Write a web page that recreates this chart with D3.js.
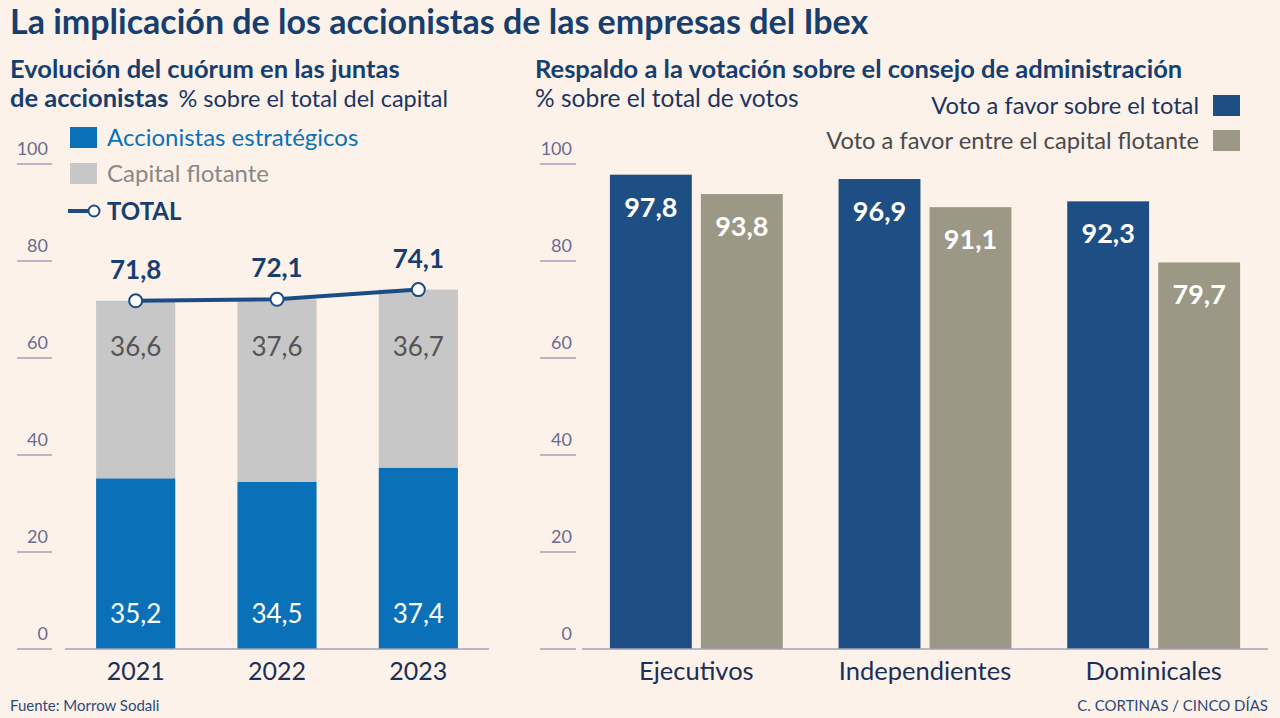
<!DOCTYPE html>
<html><head><meta charset="utf-8">
<script src="https://cdn.jsdelivr.net/npm/d3@7"></script>
<style>
html,body{margin:0;padding:0;background:#fcf2ea;}
svg{display:block;font-family:Lato,"Open Sans",sans-serif;}
</style></head>
<body>
<svg id="c" width="1280" height="718"></svg>
<script>
// ---- Data ----
const years = ["2021","2022","2023"];
const strategic = [35.2, 34.5, 37.4];
const floating = [36.6, 37.6, 36.7];
const totals = [71.8, 72.1, 74.1];
const yTicks = [0,20,40,60,80,100];

const boardCats = ["Ejecutivos","Independientes","Dominicales"];
const boardSeries = ["Voto a favor sobre el total","Voto a favor entre el capital flotante"];
const voteTotal = [97.8, 96.9, 92.3];
const voteFloat = [93.8, 91.1, 79.7];

const fmt = v => String(v).replace(".", ",");

const svg = d3.select("#c");
const navy = "#163f6f";
const cStrat = "#0a71b9", cFloat = "#c7c7c7", cLine = "#1b4c85";
const cBlue2 = "#1e4f84", cGrey2 = "#9b9886";
const tickCol = "#6c6b8d", tickLine = "#a3a2ba";

// Titles
svg.append("text").attr("x",10).attr("y",34).attr("fill",navy)
  .attr("font-size",34).attr("font-weight",700).text("La implicación de los accionistas de las empresas del Ibex");
svg.append("text").attr("x",10).attr("y",78).attr("fill",navy)
  .attr("font-size",25.5).attr("font-weight",700).text("Evolución del cuórum en las juntas");
const st2 = svg.append("text").attr("x",10).attr("y",107).attr("fill",navy).attr("font-size",25.5);
st2.append("tspan").attr("font-weight",700).text("de accionistas");
st2.append("tspan").attr("dx",10).attr("font-size",23.5).attr("fill","#1c3560").text("% sobre el total del capital");
svg.append("text").attr("x",535).attr("y",78).attr("fill",navy)
  .attr("font-size",25.5).attr("font-weight",700).text("Respaldo a la votación sobre el consejo de administración");
svg.append("text").attr("x",535).attr("y",107).attr("fill","#1c3560")
  .attr("font-size",24.5).text("% sobre el total de votos");

// ---- Left chart ----
const y = d3.scaleLinear().domain([0,100]).range([649,164]);
const xL = d3.scaleBand().domain(years).range([65,489]).paddingInner(0.44).paddingOuter(0.22);

function yAxis(x1, x2) {
  const g = svg.append("g");
  yTicks.forEach(t => {
    g.append("line").attr("x1",x1).attr("x2",x2).attr("y1",y(t)).attr("y2",y(t))
      .attr("stroke",tickLine).attr("stroke-width",1.5);
    g.append("text").attr("x",x2-4).attr("y",y(t)-9).attr("text-anchor","end")
      .attr("fill",tickCol).attr("font-size",18).text(t);
  });
}
yAxis(17,52);

const gL = svg.append("g");
years.forEach((yr,i) => {
  gL.append("rect").attr("x",xL(yr)).attr("width",xL.bandwidth())
    .attr("y",y(strategic[i])).attr("height",y(0)-y(strategic[i])).attr("fill",cStrat);
  gL.append("rect").attr("x",xL(yr)).attr("width",xL.bandwidth())
    .attr("y",y(strategic[i]+floating[i])).attr("height",y(strategic[i])-y(strategic[i]+floating[i])).attr("fill",cFloat);
  const cx = xL(yr)+xL.bandwidth()/2;
  gL.append("text").attr("x",cx).attr("y",y(5.3)).attr("text-anchor","middle")
    .attr("fill","#fff").attr("font-size",26).text(fmt(strategic[i]));
  gL.append("text").attr("x",cx).attr("y",y(60.4)).attr("text-anchor","middle")
    .attr("fill","#555558").attr("font-size",26).text(fmt(floating[i]));
  gL.append("text").attr("x",cx).attr("y",680).attr("text-anchor","middle")
    .attr("fill","#1b2f57").attr("font-size",25).text(yr);
});
svg.append("line").attr("x1",65).attr("x2",489).attr("y1",y(0)).attr("y2",y(0))
  .attr("stroke",tickLine).attr("stroke-width",1.5);

const line = d3.line().x((d,i)=>xL(years[i])+xL.bandwidth()/2).y(d=>y(d));
svg.append("path").datum(totals).attr("d",line).attr("fill","none")
  .attr("stroke",cLine).attr("stroke-width",4);
totals.forEach((v,i)=>{
  const cx = xL(years[i])+xL.bandwidth()/2;
  svg.append("circle").attr("cx",cx).attr("cy",y(v)).attr("r",6.5)
    .attr("fill","#fff").attr("stroke",cLine).attr("stroke-width",2);
  svg.append("text").attr("x",cx).attr("y",y(v)-22).attr("text-anchor","middle")
    .attr("fill",navy).attr("font-size",26).attr("font-weight",700).text(fmt(v));
});

// Left legend
const lg = svg.append("g");
lg.append("rect").attr("x",70).attr("y",127).attr("width",27).attr("height",21).attr("fill",cStrat);
lg.append("text").attr("x",107).attr("y",146).attr("fill",cStrat).attr("font-size",24).text("Accionistas estratégicos");
lg.append("rect").attr("x",70).attr("y",163).attr("width",27).attr("height",21).attr("fill",cFloat);
lg.append("text").attr("x",107).attr("y",182).attr("fill","#8a8886").attr("font-size",24).text("Capital flotante");
lg.append("line").attr("x1",68).attr("x2",92).attr("y1",211).attr("y2",211).attr("stroke",cLine).attr("stroke-width",4);
lg.append("circle").attr("cx",94).attr("cy",211).attr("r",5.5).attr("fill","#fff").attr("stroke",cLine).attr("stroke-width",2);
lg.append("text").attr("x",107).attr("y",220).attr("fill",navy).attr("font-size",24).attr("font-weight",700).text("TOTAL");

// ---- Right chart ----
yAxis(540,576);
const x0 = d3.scaleBand().domain(boardCats).range([582,1268]).paddingInner(0.244).paddingOuter(0.122);
const x1 = d3.scaleBand().domain(boardSeries).range([0,x0.bandwidth()]).paddingInner(0.1);
const colors = [cBlue2, cGrey2];
const gR = svg.append("g");
boardCats.forEach((c,i)=>{
  [voteTotal[i], voteFloat[i]].forEach((v,j)=>{
    const bx = x0(c)+x1(boardSeries[j]);
    gR.append("rect").attr("x",bx).attr("width",x1.bandwidth())
      .attr("y",y(v)).attr("height",y(0)-y(v)).attr("fill",colors[j]);
    gR.append("text").attr("x",bx+x1.bandwidth()/2).attr("y",y(v)+42).attr("text-anchor","middle")
      .attr("fill","#fff").attr("font-size",27).attr("font-weight",700).text(fmt(v));
  });
  gR.append("text").attr("x",x0(c)+x0.bandwidth()/2).attr("y",680).attr("text-anchor","middle")
    .attr("fill","#1b2f57").attr("font-size",25.5).text(c);
});
svg.append("line").attr("x1",582).attr("x2",1268).attr("y1",y(0)).attr("y2",y(0))
  .attr("stroke",tickLine).attr("stroke-width",1.5);

// Right legend
boardSeries.forEach((s,j)=>{
  const cy = 105 + j*35;
  svg.append("rect").attr("x",1213).attr("y",cy-10).attr("width",27).attr("height",21).attr("fill",colors[j]);
  svg.append("text").attr("x",1199).attr("y",cy+9).attr("text-anchor","end")
    .attr("fill", j===0 ? "#1c3560" : "#4a4a4a").attr("font-size",23.7).text(s);
});

// Footer
svg.append("text").attr("x",10).attr("y",711).attr("fill","#2c4a78").attr("font-size",15).text("Fuente: Morrow Sodali");
svg.append("text").attr("x",1268).attr("y",711).attr("text-anchor","end").attr("fill","#2c4a78").attr("font-size",15).text("C. CORTINAS / CINCO DÍAS");
</script>
</body></html>
